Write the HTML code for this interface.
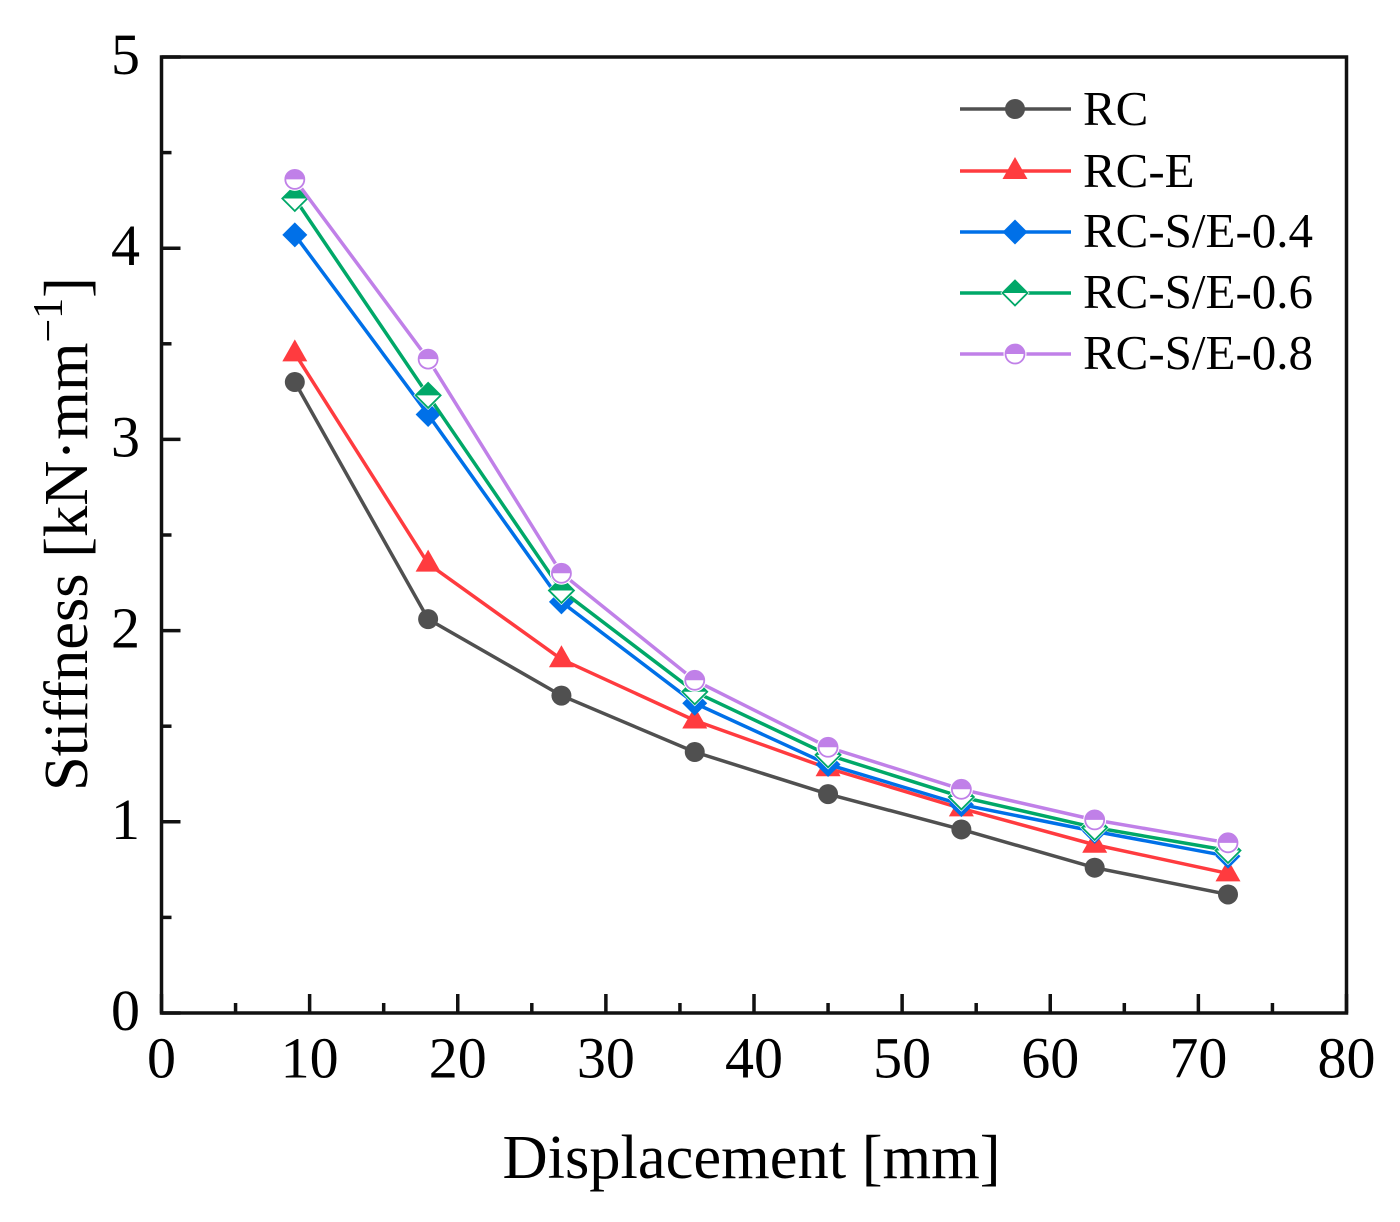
<!DOCTYPE html>
<html>
<head>
<meta charset="utf-8">
<style>
html,body{margin:0;padding:0;background:#fff;}
#wrap{width:1400px;height:1222px;overflow:hidden;position:relative;background:#fff;}
svg{display:block;}
text{font-family:"Liberation Serif",serif;fill:#000;}
</style>
</head>
<body>
<div id="wrap">
<svg id="chart" width="1378" height="1222" viewBox="0 0 1378 1222"></svg>
</div>
<script>
const xValues = [9, 18, 27, 36, 45, 54, 63, 72];
const seriesRC = [3.30, 2.06, 1.66, 1.365, 1.145, 0.96, 0.76, 0.62];
const seriesRCE = [3.45, 2.35, 1.85, 1.53, 1.28, 1.07, 0.88, 0.73];
const seriesRCSE04 = [4.07, 3.13, 2.15, 1.62, 1.30, 1.09, 0.95, 0.82];
const seriesRCSE06 = [4.26, 3.23, 2.21, 1.68, 1.35, 1.13, 0.97, 0.85];
const seriesRCSE08 = [4.36, 3.42, 2.30, 1.74, 1.39, 1.17, 1.01, 0.89];
const xTickLabels = [0, 10, 20, 30, 40, 50, 60, 70, 80];
const yTickLabels = [0, 1, 2, 3, 4, 5];
const seriesNames = ['RC', 'RC-E', 'RC-S/E-0.4', 'RC-S/E-0.6', 'RC-S/E-0.8'];

const NS = 'http://www.w3.org/2000/svg';
const svg = document.getElementById('chart');
const L = 161.5, R = 1346.5, T = 57, B = 1013;
const INK = '#111';
const xScale = v => L + (v / 80) * (R - L);
const yScale = v => B - (v / 5) * (B - T);

function make(tag, attrs, parent) {
  const el = document.createElementNS(NS, tag);
  for (const k in attrs) el.setAttribute(k, attrs[k]);
  (parent || svg).appendChild(el);
  return el;
}

// Plot frame
const frame = make('rect', {x: L, y: T, width: R - L, height: B - T, fill: 'none', stroke: INK, 'stroke-width': 3.5});



// X ticks
for (let i = 0; i < xTickLabels.length; i++) {
  const v = xTickLabels[i];
  const x = xScale(v);
  const tick = make('line', {x1: x, x2: x, y1: B, y2: B - 19, stroke: INK, 'stroke-width': 3.5});
  
  
  if (i < xTickLabels.length - 1) {
    const mx = xScale(v + (xTickLabels[i + 1] - v) / 2);
    const minor = make('line', {x1: mx, x2: mx, y1: B, y2: B - 10, stroke: INK, 'stroke-width': 3.5});
    
    
  }
  const label = make('text', {x: x, y: 1077.5, 'font-size': 58, 'text-anchor': 'middle'});
  label.textContent = v;
  
  
}

// Y ticks
for (let i = 0; i < yTickLabels.length; i++) {
  const v = yTickLabels[i];
  const y = yScale(v);
  const tick = make('line', {x1: L, x2: L + 19, y1: y, y2: y, stroke: INK, 'stroke-width': 3.5});
  
  
  if (i < yTickLabels.length - 1) {
    const my = yScale(v + (yTickLabels[i + 1] - v) / 2);
    const minor = make('line', {x1: L, x2: L + 10, y1: my, y2: my, stroke: INK, 'stroke-width': 3.5});
    
    
  }
  const label = make('text', {x: 140, y: y + 17, 'font-size': 58, 'text-anchor': 'end'});
  label.textContent = v;
  
  
}

// Axis titles
const xTitle = make('text', {x: 751.5, y: 1178, 'font-size': 62.5, 'text-anchor': 'middle'});
xTitle.textContent = 'Displacement [mm]';



const yTitle = make('text', {transform: 'translate(87,534) rotate(-90)', 'font-size': 62.5, 'text-anchor': 'middle'});


const t1 = make('tspan', {}, yTitle);
t1.textContent = 'Stiffness [kN·mm';
const t2 = make('tspan', {dy: -25, 'font-size': 42}, yTitle);
t2.textContent = '−1';
const t3 = make('tspan', {dy: 25}, yTitle);
t3.textContent = ']';

// Marker drawing
function drawMarker(kind, color, x, y, parent) {
  const s = 12.5;
  const d = `${x},${y - s} ${x + s},${y} ${x},${y + s} ${x - s},${y}`;
  if (kind === 'circle') {
    make('circle', {cx: x, cy: y, r: 10, fill: color}, parent);
  } else if (kind === 'triangle') {
    make('polygon', {points: `${x},${y - 14} ${x + 12.5},${y + 8} ${x - 12.5},${y + 8}`, fill: color}, parent);
  } else if (kind === 'diamond') {
    make('polygon', {points: d, fill: color}, parent);
  } else if (kind === 'half-diamond') {
    make('polygon', {points: d, fill: '#fff', stroke: '#fff', 'stroke-width': 3}, parent);
    make('polygon', {points: d, fill: '#fff', stroke: color, 'stroke-width': 1.8}, parent);
    make('polygon', {points: `${x},${y - s} ${x + s},${y} ${x - s},${y}`, fill: color}, parent);
  } else if (kind === 'half-circle') {
    make('circle', {cx: x, cy: y, r: 11.5, fill: '#fff'}, parent);
    make('circle', {cx: x, cy: y, r: 9.5, fill: '#fff', stroke: color, 'stroke-width': 1.8}, parent);
    make('path', {d: `M${x - 9.8},${y} A9.8,9.8 0 0 1 ${x + 9.8},${y} Z`, fill: color}, parent);
  }
}

const seriesData = [seriesRC, seriesRCE, seriesRCSE04, seriesRCSE06, seriesRCSE08];
const seriesColors = ['#505050', '#ff3b3f', '#0070e8', '#00a868', '#c080e8'];
const seriesMarkers = ['circle', 'triangle', 'diamond', 'half-diamond', 'half-circle'];

for (let i = 0; i < seriesData.length; i++) {
  const g = make('g', {});
  
  
  const pts = seriesData[i].map((v, j) => xScale(xValues[j]) + ',' + yScale(v)).join(' ');
  make('polyline', {points: pts, fill: 'none', stroke: seriesColors[i], 'stroke-width': 3.5}, g);
  seriesData[i].forEach((v, j) => drawMarker(seriesMarkers[i], seriesColors[i], xScale(xValues[j]), yScale(v), g));
}

// Legend
const legendYs = [109, 171, 232, 293, 354];
const legendBaselines = [125, 187, 247, 308, 369];
for (let i = 0; i < seriesNames.length; i++) {
  const g = make('g', {});
  
  
  const y = legendYs[i];
  make('line', {x1: 960, x2: 1071, y1: y, y2: y, stroke: seriesColors[i], 'stroke-width': 3.5}, g);
  drawMarker(seriesMarkers[i], seriesColors[i], 1015, y, g);
  const t = make('text', {x: 1083, y: legendBaselines[i], 'font-size': 49}, g);
  t.textContent = seriesNames[i];
  
  
}
</script>
</body>
</html>
